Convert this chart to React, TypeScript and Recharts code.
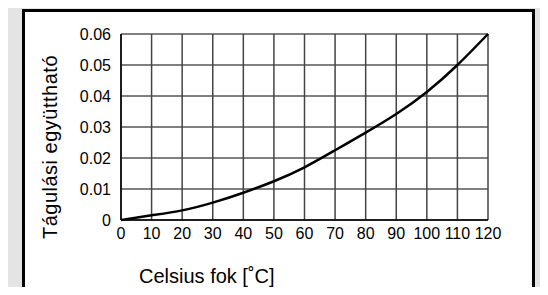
import { LineChart, Line, XAxis, YAxis, CartesianGrid } from 'recharts'

// hőmérséklet (°C) és tágulási együttható
const temps = [0, 10, 20, 30, 40, 50, 60, 70, 80, 90, 100, 110, 120]
const coefs = [0, 0.0015, 0.0031, 0.0056, 0.0088, 0.0125, 0.017, 0.0225, 0.0282, 0.0342, 0.0413, 0.05, 0.06]

const xTicks = [0, 10, 20, 30, 40, 50, 60, 70, 80, 90, 100, 110, 120]
const yTicks = [0, 0.01, 0.02, 0.03, 0.04, 0.05, 0.06]

const xLabel = 'Celsius fok [˚C]'
const yLabel = 'Tágulási együttható'

const font = '"Liberation Sans", Arial, Helvetica, sans-serif'

export default function App() {
  const data = temps.map((t, i) => ({ t, v: coefs[i] }))

  return (
    <div
      style={{
        position: 'relative',
        width: 548,
        height: 295,
        margin: -8,
        overflow: 'hidden',
        background: '#e4e4e4',
        fontFamily: font,
      }}
    >
      {/* fehér keret */}
      <div
        style={{
          position: 'absolute',
          left: 22,
          top: 9,
          width: 507,
          height: 320,
          background: '#fff',
          border: '3px solid #000',
        }}
      />
      <div style={{ position: 'absolute', left: 0, top: 0 }}>
        <LineChart width={548} height={295} data={data} margin={{ top: 34, right: 60, bottom: 45, left: 61 }}>
          <CartesianGrid horizontal={true} vertical={false} stroke="#000" strokeWidth={1} />
          <CartesianGrid horizontal={false} vertical={true} stroke="#444" strokeWidth={1.5} />
          <XAxis
            dataKey="t"
            type="number"
            domain={[0, 120]}
            ticks={xTicks}
            interval={0}
            height={30}
            tickLine={false}
            axisLine={{ stroke: '#000', strokeWidth: 1.5 }}
            tick={{ fontSize: 16, fill: '#000', fontFamily: font }}
            label={{
              content: ({ viewBox }: any) => (
                <text x={viewBox.x + 18} y={viewBox.y + 63} fontSize={20} fill="#000" fontFamily={font}>
                  {xLabel}
                </text>
              ),
            }}
          />
          <YAxis
            type="number"
            domain={[0, 0.06]}
            ticks={yTicks}
            interval={0}
            width={60}
            tickLine={false}
            tickMargin={4}
            axisLine={{ stroke: '#000', strokeWidth: 1.5 }}
            tick={{ fontSize: 16, fill: '#000', fontFamily: font }}
            tickFormatter={(v: number) => (v === 0 ? '0' : v.toFixed(2))}
            label={{
              content: ({ viewBox }: any) => {
                const cx = viewBox.x - 4
                const cy = viewBox.y + viewBox.height / 2 + 20
                return (
                  <text
                    x={cx}
                    y={cy}
                    transform={`rotate(-90, ${cx}, ${cy})`}
                    textAnchor="middle"
                    fontSize={20}
                    letterSpacing={0.5}
                    fill="#000"
                    fontFamily={font}
                  >
                    {yLabel}
                  </text>
                )
              },
            }}
          />
          <Line
            type="natural"
            dataKey="v"
            stroke="#000"
            strokeWidth={2.5}
            dot={false}
            isAnimationActive={false}
          />
        </LineChart>
      </div>
    </div>
  )
}
